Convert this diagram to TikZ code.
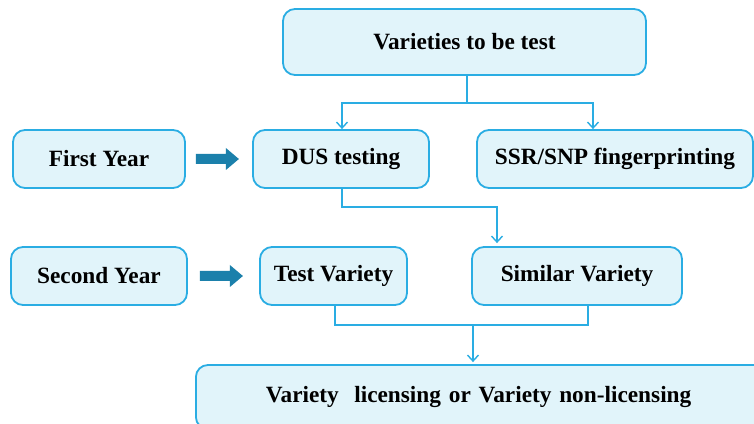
\documentclass[tikz,border=0pt]{standalone}
\usepackage{fontspec}
\setmainfont{Liberation Serif}
\usetikzlibrary{arrows.meta}
\definecolor{boxfill}{HTML}{E1F4FA}
\definecolor{boxline}{HTML}{2AADE3}
\definecolor{fatblue}{HTML}{1B80AB}
\tikzset{
  box/.style={draw=boxline, fill=boxfill, line width=1.8pt, rounded corners=12pt,
    minimum height=58pt, inner sep=0pt, font=\fontsize{23.3}{27}\selectfont\bfseries},
  conn/.style={draw=boxline, line width=1.4pt},
  arr/.style={conn, -{Straight Barb[length=6pt,width=11pt,line width=1.4pt]}},
  fat/.style={fill=fatblue}
}
\begin{document}
\begin{tikzpicture}[x=1pt,y=1pt]
  \clip (0,0) rectangle (754,423);
  \fill[white] (0,0) rectangle (754,423);

  % boxes
  \node[box, minimum width=363pt, minimum height=66pt] (top) at (464.5,381) {Varieties to be test};
  \node[box, minimum width=172pt] (first)   at (99,264)    {First Year};
  \node[box, minimum width=176pt] (second)  at (99,147)    {Second Year};
  \node[box, minimum width=176pt] (dus)     at (341,264)   {DUS testing};
  \node[box, minimum width=276pt] (ssr)     at (615,264)   {SSR/SNP fingerprinting};
  \node[box, minimum width=147pt] (test)    at (333.5,147) {Test Variety};
  \node[box, minimum width=210pt] (similar) at (577,147)   {Similar Variety};
  \node[box, anchor=west, minimum height=64pt, text width=500pt, align=left, inner xsep=70pt]
    (bottom) at (195,26) {Variety\ \ licensing or Variety non-licensing};

  % year arrows
  \fill[fat] ([xshift=10pt]first.east) ++(0,5) -- ++(30,0) -- ++(0,6) -- ++(13,-11)
    -- ++(-13,-11) -- ++(0,6) -- ++(-30,0) -- cycle;
  \fill[fat] ([xshift=12pt]second.east) ++(0,5) -- ++(30,0) -- ++(0,6) -- ++(13,-11)
    -- ++(-13,-11) -- ++(0,6) -- ++(-30,0) -- cycle;

  % first split
  \draw[arr] ([xshift=2.5pt]top.south) -- ++(0,-27) -| ([xshift=1pt]dus.north);
  \draw[arr] ([xshift=2.5pt]top.south) -- ++(0,-27) -| ([xshift=-22pt]ssr.north);

  % first year to second year
  \draw[arr, shorten >=3pt] ([xshift=1pt]dus.south) -- ++(0,-18) -| ([xshift=-80pt]similar.north);

  % second year to result
  \draw[conn] ([xshift=1.5pt]test.south) -- ++(0,-19) -| ([xshift=11pt]similar.south);
  \coordinate (join) at (473,99);
  \draw[arr, shorten >=2pt] (join) -- (join |- bottom.north);
\end{tikzpicture}
\end{document}
